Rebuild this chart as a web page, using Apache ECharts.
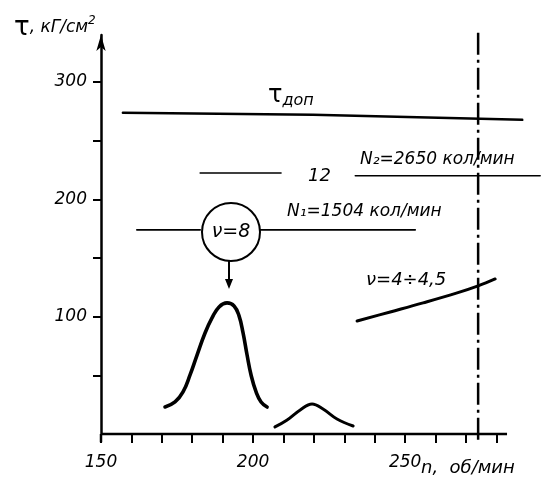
<!DOCTYPE html>
<html><head><meta charset="utf-8">
<script src="https://cdn.jsdelivr.net/npm/echarts@6/dist/echarts.min.js"></script>
<style>html,body{margin:0;padding:0;background:#fff}#c{width:545px;height:481px}</style>
</head><body><div id="c"></div>
<script>
// axis ticks / labels
const xTicks = [150,160,170,180,190,200,210,220,230,240,250,260,270,280];
const xLabels = [150,200,250];
const xAxisExtent = [150,283.5];
const yAxisBelow = [-7,0];
const yTicks = [50,100,150,200,250,300];
const yLabels = [100,200,300];
// resonance curve nu=8 (around N1)
const bigBellX = [171.05,174.34,176.97,179.28,181.58,184.21,186.51,188.82,191.45,193.75,195.39,196.71,198.03,199.34,200.99,202.63,204.61];
const bigBellY = [23.0,27.3,35.8,50.3,67.3,86.1,98.9,108.3,111.7,109.1,100.6,86.1,67.3,50.3,35.8,27.3,23.0];
// resonance curve nu=12 (around N2)
const smallBellX = [207.2,211.2,215.5,219.4,223.0,227.6,232.9];
const smallBellY = [6.0,11.9,20.5,25.6,21.3,12.8,6.8];
// nu = 4 ÷ 4.5 curve
const risingX = [234.2,245.1,255.9,267.1,274.0,279.6];
const risingY = [96.3,104.0,111.7,120.2,126.2,132.1];
// allowable stress line
const tauX = [157.2,219.7,288.5];
const tauY = [273.7,272.0,267.7];
// N1 level lines
const n1LeftX = [161.8,182.6];
const n1RightX = [202.3,253.3];
const n1Y = 174;
// nu=12 / N2 level lines
const n12X = [182.6,209.2];
const n12Y = 222.5;
const n2X = [233.6,294.4];
const n2Y = 220;
// operating speed (dash-dot)
const opX = 274;
const opY = [-5,342];

const FONT = "'DejaVu Sans',sans-serif";
const zip = (xs, ys) => xs.map((x,i)=>[x, Array.isArray(ys)? ys[i] : ys]);
const lineS = (data, w, extra) => Object.assign({
  type:'line', data, symbol:'none', clip:false, silent:true,
  lineStyle:{color:'#000', width:w, cap:'round'}
}, extra||{});

const chart = echarts.init(document.getElementById('c'), null, {renderer:'canvas'});
const txt = (x,y,text,size,extra) => ({type:'text', x, y, style:Object.assign({
  text, font:'italic '+size+'px '+FONT, fill:'#000', textVerticalAlign:'middle'}, extra||{})});

chart.setOption({
  animation:false,
  backgroundColor:'#fff',
  grid:{left:101, right:3, top:35, bottom:47},
  xAxis:{type:'value', min:150, max:295,
    axisLine:{show:false},
    axisTick:{show:true, customValues:xTicks, length:9, lineStyle:{color:'#000', width:2}},
    axisLabel:{customValues:xLabels, color:'#000', fontSize:17, fontStyle:'italic', fontFamily:FONT, margin:20},
    splitLine:{show:false}},
  yAxis:{type:'value', min:0, max:340,
    axisLine:{show:true, onZero:false, symbol:['none','arrow'], symbolSize:[7,16], lineStyle:{color:'#000', width:2.5}},
    axisTick:{show:true, customValues:yTicks, length:8, lineStyle:{color:'#000', width:2}},
    axisLabel:{customValues:yLabels, color:'#000', fontSize:17, fontStyle:'italic', fontFamily:FONT, margin:14},
    splitLine:{show:false}},
  series:[
    lineS(zip(xAxisExtent,0), 2.5, {lineStyle:{color:'#000', width:2.5, cap:'butt'}}),
    lineS(yAxisBelow.map(v=>[150,v]), 2.5, {lineStyle:{color:'#000', width:2.5, cap:'butt'}}),
    lineS(zip(bigBellX,bigBellY), 3.6, {smooth:0.45}),
    lineS(zip(smallBellX,smallBellY), 3, {smooth:0.4}),
    lineS(zip(risingX,risingY), 3, {smooth:0.4}),
    lineS(zip(tauX,tauY), 2.5),
    lineS(zip(n1LeftX,n1Y), 1.8),
    lineS(zip(n1RightX,n1Y), 1.8),
    lineS(zip(n12X,n12Y), 1.5),
    lineS(zip(n2X,n2Y), 1.5),
    lineS([[opX,opY[0]],[opX,opY[1]]], 2.5, {lineStyle:{color:'#000', width:2.5, type:[22,5,3,5]}})
  ],
  graphic:[
    {type:'text', x:14, y:28, style:{rich:{
        t:{font:'26px '+FONT, fill:'#000'},
        u:{font:'italic 17px '+FONT, fill:'#000'},
        s:{font:'italic 12px '+FONT, fill:'#000', verticalAlign:'top', padding:[0,0,10,0]}},
      text:'{t|τ}{u|, кГ/см}{s|2}', textVerticalAlign:'middle', fill:'#000'}},
    {type:'text', x:268, y:96, style:{rich:{
        t:{font:'24px '+FONT, fill:'#000'},
        d:{font:'italic 16px '+FONT, fill:'#000', padding:[10,0,0,0]}},
      text:'{t|τ}{d|доп}', textVerticalAlign:'middle'}},
    txt(421, 468, 'n,  об/мин', 18),
    txt(308, 176, '12', 18),
    txt(360, 160, 'N₂=2650 кол/мин', 17),
    txt(287, 212, 'N₁=1504 кол/мин', 17),
    txt(366, 280, 'ν=4÷4,5', 18),
    {type:'circle', shape:{cx:231, cy:232, r:29}, style:{fill:'#fff', stroke:'#000', lineWidth:2}},
    txt(231, 232, 'ν=8', 19, {textAlign:'center'}),
    {type:'line', shape:{x1:229, y1:261, x2:229, y2:282}, style:{stroke:'#000', lineWidth:2}},
    {type:'polygon', shape:{points:[[225,279],[233,279],[229,289]]}, style:{fill:'#000'}}
  ]
});
</script></body></html>
